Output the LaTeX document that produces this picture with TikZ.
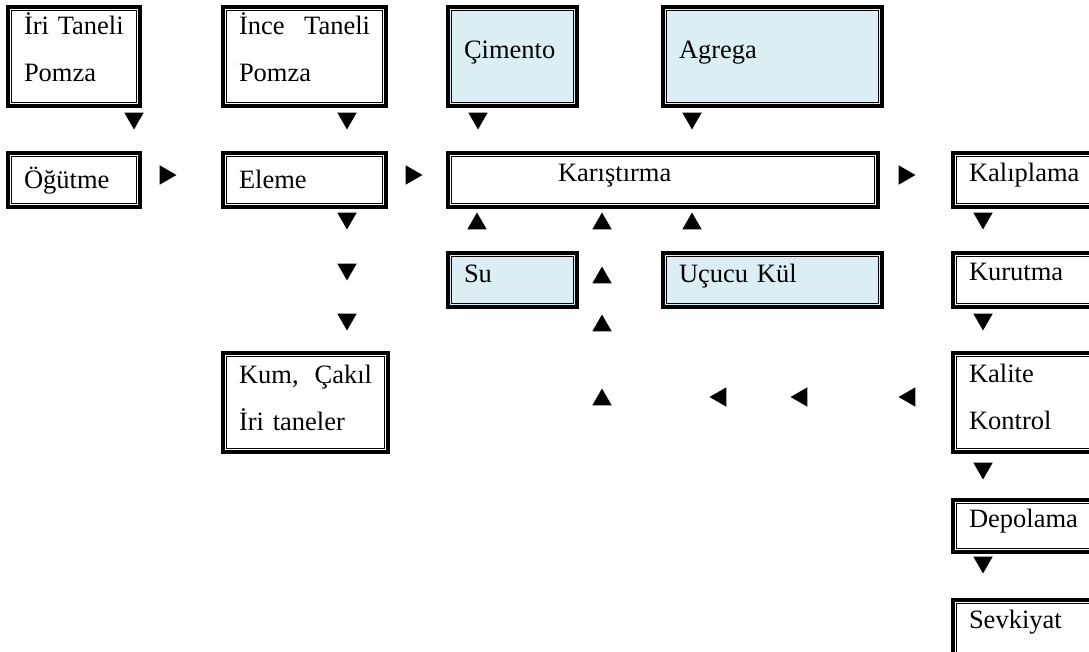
\documentclass[tikz,border=0pt]{standalone}
\usepackage{fontspec}
\setmainfont{Liberation Serif}
\usetikzlibrary{shapes.geometric}
\definecolor{aqua}{HTML}{DAEEF3}

\begin{document}
\begin{tikzpicture}[x=1pt, y=-1pt,
		box/.style={draw, line width=3.2pt, rectangle, anchor=north west, outer sep=0pt,
			inner xsep=16pt, inner ysep=0pt, align=left, font=\fontsize{26.5}{47}\selectfont,
			path picture={\draw[line width=0.9pt]
				([shift={(3.3pt,-3.3pt)}]path picture bounding box.north west) rectangle
				([shift={(-3.3pt,3.3pt)}]path picture bounding box.south east);}},
		tri/.style={regular polygon, regular polygon sides=3, fill=black, draw=none,
			inner sep=0pt, minimum size=22.5pt},
		dn/.style={tri, shape border rotate=180, yshift=2.8pt},
		up/.style={tri, yshift=-2.8pt},
		rt/.style={tri, shape border rotate=270, xshift=-2.8pt},
		lt/.style={tri, shape border rotate=90, xshift=2.8pt}]
		\useasboundingbox (0,0) rectangle (1089,651);
		% boxes
		\node[box, text width=100pt, text height=27pt, text depth=72pt] (iri) at (8,7) {İri Taneli\\Pomza};
		\node[box, text width=131pt, text height=27pt, text depth=72pt] (ince) at (223,7) {İnce\hfill Taneli\\Pomza};
		\node[box, fill=aqua, text width=97pt, text height=51pt, text depth=48pt] (cimento) at (448,7) {Çimento};
		\node[box, fill=aqua, text width=187pt, text height=51pt, text depth=48pt] (agrega) at (663,7) {Agrega};
		\node[box, text width=100pt, text height=35pt, text depth=19pt] (ogutme) at (8,153) {Öğütme};
		\node[box, text width=131pt, text height=35pt, text depth=19pt] (eleme) at (223,153) {Eleme};
		\node[box, text width=398pt, text height=28pt, text depth=26pt] (karis) at (448,153) {\hspace*{94pt}Karıştırma};
		\node[box, text width=120pt, text height=28pt, text depth=26pt] (kalip) at (953,153) {Kalıplama};
		\node[box, fill=aqua, text width=97pt, text height=29pt, text depth=25pt] (su) at (448,253) {Su};
		\node[box, fill=aqua, text width=187pt, text height=29pt, text depth=25pt] (ucucu) at (663,253) {Uçucu Kül};
		\node[box, text width=120pt, text height=27pt, text depth=27pt] (kurut) at (953,253) {Kurutma};
		\node[box, text width=133pt, text height=30pt, text depth=69pt] (kum) at (223,353) {Kum,\hfill Çakıl\\İri taneler};
		\node[box, text width=120pt, text height=29pt, text depth=70pt] (kalite) at (953,353) {Kalite\\Kontrol};
		\node[box, text width=120pt, text height=27pt, text depth=25pt] (depo) at (953,500) {Depolama};
		\node[box, text width=120pt, text height=28pt, text depth=28pt] (sevk) at (953,600) {Sevkiyat};
		% triangles
		\node[dn] (a1) at (134,121) {};
		\node[dn] (a2) at (347,121) {};
		\node[dn] (a3) at (478,121) {};
		\node[dn] (a4) at (692,121) {};
		\node[rt] (a5) at (168,175) {};
		\node[rt] (a6) at (414,175) {};
		\node[rt] (a7) at (907,175) {};
		\node[dn] (a8) at (347,221) {};
		\node[up] (a9) at (477,221) {};
		\node[up] (a10) at (602,221) {};
		\node[up] (a11) at (692,221) {};
		\node[dn] (a12) at (983,221) {};
		\node[dn] (a13) at (347,272) {};
		\node[up] (a14) at (602,275) {};
		\node[dn] (a15) at (347,322) {};
		\node[up] (a16) at (602,323) {};
		\node[dn] (a17) at (983,322) {};
		\node[up] (a18) at (602,397) {};
		\node[lt] (a19) at (718,397) {};
		\node[lt] (a20) at (799,397) {};
		\node[lt] (a21) at (907,397) {};
		\node[dn] (a22) at (983,471) {};
		\node[dn] (a23) at (983,565) {};
	\end{tikzpicture}
\end{document}
